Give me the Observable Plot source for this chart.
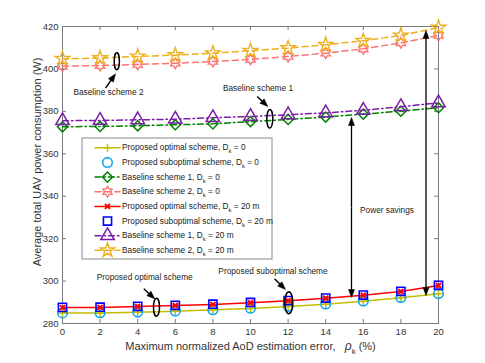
<!DOCTYPE html>
<html><head><meta charset="utf-8">
<script src="https://cdn.jsdelivr.net/npm/d3@7"></script>
<script src="https://cdn.jsdelivr.net/npm/@observablehq/plot@0.6"></script>
<style>html,body{margin:0;padding:0;background:#fff;} #chart svg{display:block;}</style>
</head><body><div id="chart"></div>
<script>
// ---------- data ----------
const rho = [0, 2, 4, 6, 8, 10, 12, 14, 16, 18, 20];
const yTicks = [280, 300, 320, 340, 360, 380, 400, 420];

const seriesNames = [
  "Proposed optimal scheme, D_k = 0",
  "Proposed suboptimal scheme, D_k = 0",
  "Baseline scheme 1, D_k = 0",
  "Baseline scheme 2, D_k = 0",
  "Proposed optimal scheme, D_k = 20 m",
  "Proposed suboptimal scheme, D_k = 20 m",
  "Baseline scheme 1, D_k = 20 m",
  "Baseline scheme 2, D_k = 20 m"
];
const propOpt0  = [284.9, 285.0, 285.3, 285.8, 286.5, 287.1, 288.0, 289.1, 290.5, 292.1, 294.0];
const propSub0  = [285.0, 285.1, 285.4, 285.9, 286.5, 287.2, 288.1, 289.2, 290.6, 292.2, 294.1];
const base1_0   = [372.7, 372.9, 373.2, 373.7, 374.1, 375.2, 376.2, 377.3, 378.7, 380.1, 381.7];
const base2_0   = [401.3, 401.6, 402.1, 402.7, 403.5, 404.5, 405.9, 407.4, 409.5, 412.3, 415.8];
const propOpt20 = [287.5, 287.6, 288.0, 288.5, 289.0, 289.8, 290.7, 291.9, 293.3, 295.1, 297.9];
const propSub20 = [287.6, 287.7, 288.1, 288.6, 289.1, 289.9, 290.8, 292.0, 293.4, 295.2, 298.0];
const base1_20  = [375.6, 375.7, 376.0, 376.3, 377.0, 377.6, 378.4, 379.3, 380.5, 382.2, 384.0];
const base2_20  = [404.8, 405.1, 405.9, 406.5, 407.4, 408.6, 409.8, 411.4, 413.3, 415.8, 419.5];
const seriesValues = [propOpt0, propSub0, base1_0, base2_0, propOpt20, propSub20, base1_20, base2_20];

const annotationLabels = ["Baseline scheme 2", "Baseline scheme 1", "Proposed optimal scheme", "Proposed suboptimal scheme", "Power savings"];
const xLabel = "Maximum normalized AoD estimation error,   ρ_k (%)";
const yLabel = "Average total UAV power consumption (W)";

// ---------- layout / styles ----------
const W = 485, H = 363, mL = 62, mR = 47, mT = 26, mB = 40;
const X0 = 0, X1 = 20, Y0 = 280, Y1 = 420;
const fx = px => X0 + (px - mL) / (W - mL - mR) * (X1 - X0);
const fy = py => Y1 - (py - mT) / (H - mT - mB) * (Y1 - Y0);

const hexagram = {
  draw(ctx, size) {
    const R = Math.sqrt(size / Math.PI) * 1.3, r = R / Math.sqrt(3);
    for (let i = 0; i < 12; i++) {
      const a = -Math.PI / 2 + i * Math.PI / 6, rad = i % 2 ? r : R;
      const px = rad * Math.cos(a), py = rad * Math.sin(a);
      if (i === 0) ctx.moveTo(px, py); else ctx.lineTo(px, py);
    }
    ctx.closePath();
  }
};
const squareDiamond = {
  draw(ctx, size) {
    const h = Math.sqrt(size / Math.PI) * 1.1;
    ctx.moveTo(0, -h); ctx.lineTo(h, 0); ctx.lineTo(0, h); ctx.lineTo(-h, 0);
    ctx.closePath();
  }
};
function ellipseSymbol(rx, ry) {
  return {
    draw(ctx) {
      const k = 0.5523;
      ctx.moveTo(rx, 0);
      ctx.bezierCurveTo(rx, ry * k, rx * k, ry, 0, ry);
      ctx.bezierCurveTo(-rx * k, ry, -rx, ry * k, -rx, 0);
      ctx.bezierCurveTo(-rx, -ry * k, -rx * k, -ry, 0, -ry);
      ctx.bezierCurveTo(rx * k, -ry, rx, -ry * k, rx, 0);
      ctx.closePath();
    }
  };
}
// filled arrow head, tip at origin pointing up
const headSymbol = {
  draw(ctx) {
    ctx.moveTo(0, 0);
    ctx.lineTo(-3, 8);
    ctx.lineTo(3, 8);
    ctx.closePath();
  }
};
const DASH = "6,4", DASHDOT = "6,3,1.5,3";
const styles = [
  {color: "#c2bd00", dash: null,    symbol: "plus",        r: 2.7, line: true,  sw: 1.5},
  {color: "#14a6f2", dash: null,    symbol: "circle",      r: 4.8, line: false, sw: 1.6},
  {color: "#008000", dash: DASHDOT, symbol: squareDiamond, r: 4.6, line: true,  sw: 1.5},
  {color: "#ff7272", dash: DASH,    symbol: hexagram,      r: 4.1, line: true,  sw: 1.4},
  {color: "#ff0000", dash: null,    symbol: "times",       r: 2.4, line: true,  sw: 2},
  {color: "#0000ff", dash: null,    symbol: "square",      r: 4.6, line: false, sw: 1.6},
  {color: "#7a1fa6", dash: DASHDOT, symbol: "triangle",    r: 5.0, line: true,  sw: 1.5},
  {color: "#edb120", dash: DASH,    symbol: "star",        r: 4.5, line: true,  sw: 1.4}
];

// ---------- marks ----------
const marks = [];
const TICK = 4;
const tLenX = TICK / (W - mL - mR) * (X1 - X0), tLenY = TICK / (H - mT - mB) * (Y1 - Y0);
const axisColor = "#7a7a7a";

marks.push(Plot.frame({stroke: axisColor, strokeWidth: 1}));
marks.push(Plot.ruleX(rho, {x: d => d, y1: Y0, y2: Y0 + tLenY, stroke: axisColor}));
marks.push(Plot.ruleX(rho, {x: d => d, y1: Y1, y2: Y1 - tLenY, stroke: axisColor}));
marks.push(Plot.ruleY(yTicks, {y: d => d, x1: X0, x2: X0 + tLenX, stroke: axisColor}));
marks.push(Plot.ruleY(yTicks, {y: d => d, x1: X1, x2: X1 - tLenX, stroke: axisColor}));
marks.push(Plot.axisX({ticks: rho, tickSize: 0, tickPadding: 5, label: null, fontSize: 9.5, fill: "#333"}));
marks.push(Plot.axisY({ticks: yTicks, tickSize: 0, tickPadding: 4, label: null, fontSize: 9.5, fill: "#333"}));

seriesNames.forEach((name, k) => {
  const s = styles[k];
  const rows = rho.map((x, i) => ({x, y: seriesValues[k][i]}));
  if (s.line) marks.push(Plot.line(rows, {x: "x", y: "y", stroke: s.color, strokeWidth: 1.5, strokeDasharray: s.dash}));
  marks.push(Plot.dot(rows, {x: "x", y: "y", symbol: s.symbol, r: s.r, stroke: s.color, strokeWidth: s.sw, fill: "none"}));
});

// annotations
const annTextPos = [[108, 92.3], [257.5, 88], [144.2, 277.3], [272.5, 270.7], [386.5, 210]];
annotationLabels.forEach((t, i) => {
  marks.push(Plot.text([t], {x: fx(annTextPos[i][0]), y: fy(annTextPos[i][1]), text: d => d, fontSize: 8.3, fill: "#222"}));
});
const ellipses = [[116.3, 60.7, 2.6, 8.5], [269.3, 118.3, 3, 9.3], [156, 306.7, 3, 9], [288.3, 302.3, 4, 11]];
ellipses.forEach(([cx, cy, rx, ry]) => {
  marks.push(Plot.dot([0], {x: fx(cx), y: fy(cy), symbol: ellipseSymbol(rx, ry), r: 1, stroke: "black", strokeWidth: 1.5, fill: "none"}));
});
function arrowMarks(ax, ay, bx, by, sw) {
  const dx = bx - ax, dy = by - ay, len = Math.hypot(dx, dy);
  const ex = bx - dx / len * 6, ey = by - dy / len * 6;
  const ang = Math.atan2(dx, -dy) * 180 / Math.PI;
  return [
    Plot.link([0], {x1: fx(ax), y1: fy(ay), x2: fx(ex), y2: fy(ey), stroke: "black", strokeWidth: sw}),
    Plot.dot([0], {x: fx(bx), y: fy(by), symbol: headSymbol, r: 1, rotate: ang, fill: "black", stroke: "black", strokeWidth: 0.5})
  ];
}
const pointers = [[105, 87.7, 115, 73.3], [256.7, 96, 267.3, 106], [143.3, 288.3, 154.3, 298.3], [274, 278.3, 285, 289]];
pointers.forEach(([a, b, c, d]) => marks.push(...arrowMarks(a, b, c, d, 1.4)));
const doubleArrows = [[351, 117, 297], [425.5, 30, 295]];
doubleArrows.forEach(([x, ya, yb]) => {
  const ym = (ya + yb) / 2;
  marks.push(...arrowMarks(x, ym, x, ya, 1.3));
  marks.push(...arrowMarks(x, ym, x, yb, 1.3));
});

// legend
const lgL = 82, lgR = 272, lgT = 138, lgB = 259, row0 = 147.3, rowStep = 14.65;
marks.push(Plot.rect([0], {x1: fx(lgL), x2: fx(lgR), y1: fy(lgB), y2: fy(lgT), fill: "white", stroke: "#8a8a8a", strokeWidth: 1}));
seriesNames.forEach((name, k) => {
  const s = styles[k];
  const py = fy(row0 + k * rowStep);
  if (s.line) marks.push(Plot.line([fx(94.5), fx(119.5)], {x: d => d, y: () => py, stroke: s.color, strokeWidth: 1.5, strokeDasharray: s.dash}));
  marks.push(Plot.dot([0], {x: fx(107), y: py, symbol: s.symbol, r: s.r, stroke: s.color, strokeWidth: s.sw, fill: "none"}));
  marks.push(Plot.text([name], {x: fx(121.5), y: py, text: d => d, textAnchor: "start", fontSize: 8.3, fill: "#222"}));
});

// axis titles
marks.push(Plot.text([xLabel], {frameAnchor: "bottom", dy: 26.5, text: d => d, fontSize: 11, fill: "#333"}));
marks.push(Plot.text([yLabel], {frameAnchor: "left", textAnchor: "middle", dx: -25, dy: -13, rotate: -90, text: d => d, fontSize: 11, fill: "#333"}));

const svg = Plot.plot({
  width: W, height: H,
  marginLeft: mL, marginRight: mR, marginTop: mT, marginBottom: mB,
  x: {domain: [X0, X1]},
  y: {domain: [Y0, Y1]},
  style: {fontFamily: "'Liberation Sans', Arial, Helvetica, sans-serif", background: "white", color: "#333"},
  marks
});
document.getElementById("chart").append(svg);

// subscripts
const NS = "http://www.w3.org/2000/svg";
svg.querySelectorAll("text").forEach(t => {
  const s = t.textContent;
  if (!s.includes("_k")) return;
  const fs = parseFloat(getComputedStyle(t).fontSize) || 10;
  const [a, b] = s.split("_k");
  while (t.firstChild) t.removeChild(t.firstChild);
  const sh = fs * 0.35;
  if (a.endsWith("ρ")) {
    t.appendChild(document.createTextNode(a.slice(0, -1)));
    const it = document.createElementNS(NS, "tspan");
    it.setAttribute("font-style", "italic");
    it.setAttribute("font-size", fs * 1.1);
    it.textContent = "ρ";
    t.appendChild(it);
  } else {
    t.appendChild(document.createTextNode(a));
  }
  const sub = document.createElementNS(NS, "tspan");
  sub.setAttribute("dy", sh);
  sub.setAttribute("font-size", fs * 0.72);
  sub.textContent = "k";
  t.appendChild(sub);
  const rest = document.createElementNS(NS, "tspan");
  rest.setAttribute("dy", -sh);
  rest.setAttribute("font-size", fs);
  rest.textContent = b;
  t.appendChild(rest);
});
</script>
</body></html>
